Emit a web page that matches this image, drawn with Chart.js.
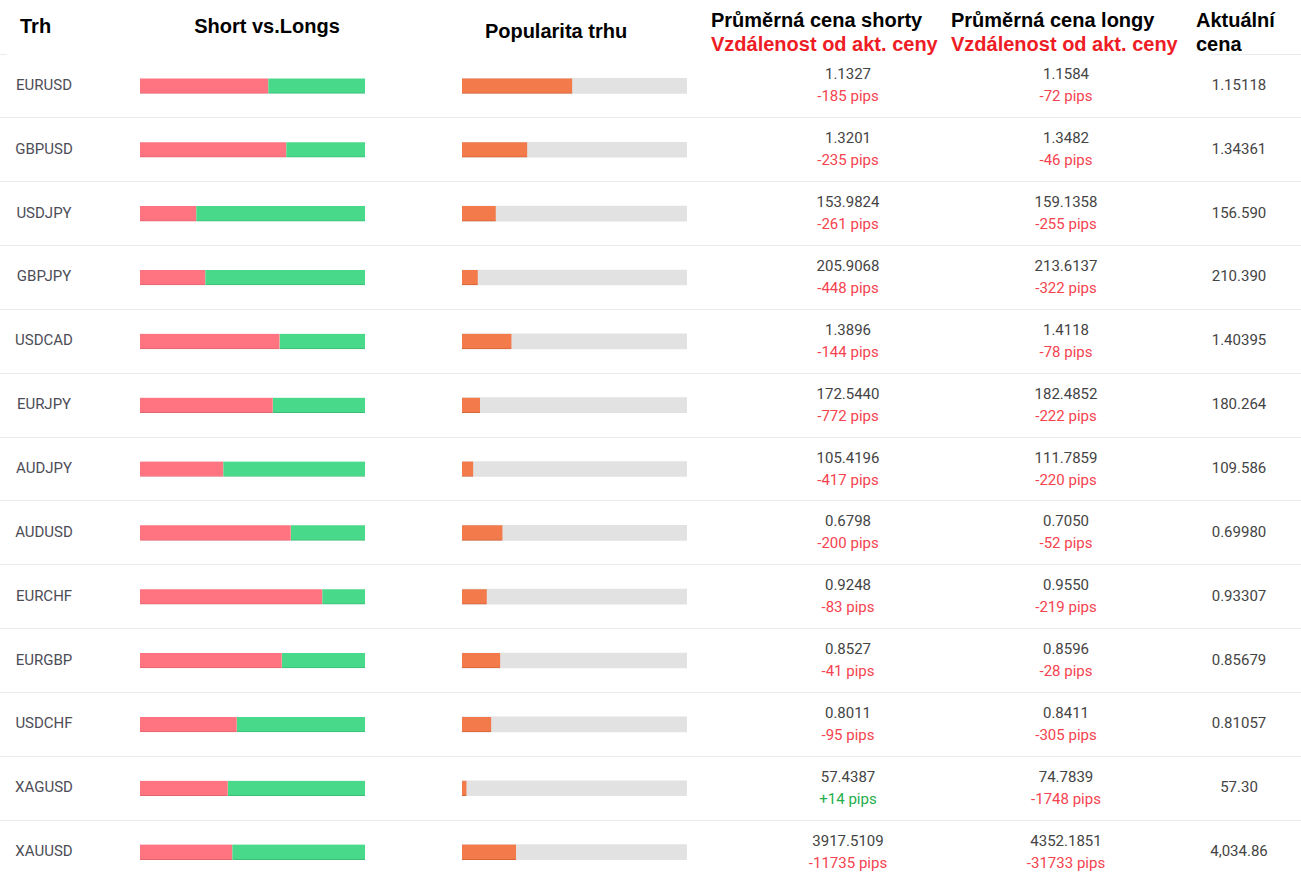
<!DOCTYPE html>
<html>
<head>
<meta charset="utf-8">
<script src="https://cdn.jsdelivr.net/npm/chart.js@4.4.1/dist/chart.umd.min.js"></script>
<style>
  body { margin: 0; background: #fff; }
  #page { position: relative; width: 1301px; height: 889px; overflow: hidden; font-family: Roboto, sans-serif; }
  .abs { position: absolute; white-space: nowrap; }
  .hd { font-family: "Liberation Sans", Arial, sans-serif; font-weight: bold; font-size: 20px; color: #000; line-height: 24px; }
  .hd.red { color: #ee1c25; }
  .txt { font-size: 15px; line-height: 18px; color: #444; }
  .pair { color: #4d4d57; font-size: 15px; }
  .neg { color: #f5434f; }
  .pos { color: #1fae4b; }
  .sep { position: absolute; left: 0; width: 1301px; height: 1px; background: #e9ecef; }
  .box { position: absolute; }
</style>
</head>
<body>
<div id="page">
  <div class="abs hd" style="left:20px;top:14px">Trh</div>
  <div class="abs hd" style="left:267px;top:14px;transform:translateX(-50%)">Short vs.Longs</div>
  <div class="abs hd" style="left:556px;top:19px;transform:translateX(-50%)">Popularita trhu</div>
  <div class="abs hd" style="left:711px;top:8px">Průměrná cena shorty</div>
  <div class="abs hd red" style="left:711px;top:32px">Vzdálenost od akt. ceny</div>
  <div class="abs hd" style="left:951px;top:8px">Průměrná cena longy</div>
  <div class="abs hd red" style="left:951px;top:32px">Vzdálenost od akt. ceny</div>
  <div class="abs hd" style="left:1196px;top:8px">Aktuální</div>
  <div class="abs hd" style="left:1196px;top:32px">cena</div>
  <div class="abs" style="left:0;top:54px;width:7px;height:1px;background:#e6ecf0"></div>
  <div class="abs" style="left:1210px;top:54px;width:91px;height:1px;background:#e6ecf0"></div>

  <div class="box" style="left:140px;top:54px;width:225px;height:830px"><canvas id="slChart"></canvas></div>
  <div class="box" style="left:462px;top:54px;width:225px;height:830px"><canvas id="popChart"></canvas></div>
  <div id="rows"></div>
</div>
<script>
const pairs = ['EURUSD','GBPUSD','USDJPY','GBPJPY','USDCAD','EURJPY','AUDJPY','AUDUSD','EURCHF','EURGBP','USDCHF','XAGUSD','XAUUSD'];
const shorts = [57, 65, 25, 29, 62, 59, 37, 67, 81, 63, 43, 39, 41];
const longs  = [43, 35, 75, 71, 38, 41, 63, 33, 19, 37, 57, 61, 59];
const popularity = [49, 29, 15, 7, 22, 8, 5, 18, 11, 17, 13, 2, 24];
const popularityMax = 100;
const shortPrices = ['1.1327','1.3201','153.9824','205.9068','1.3896','172.5440','105.4196','0.6798','0.9248','0.8527','0.8011','57.4387','3917.5109'];
const shortPips   = [-185, -235, -261, -448, -144, -772, -417, -200, -83, -41, -95, 14, -11735];
const longPrices  = ['1.1584','1.3482','159.1358','213.6137','1.4118','182.4852','111.7859','0.7050','0.9550','0.8596','0.8411','74.7839','4352.1851'];
const longPips    = [-72, -46, -255, -322, -78, -222, -220, -52, -219, -28, -305, -1748, -31733];
const currentPrices = ['1.15118','1.34361','156.590','210.390','1.40395','180.264','109.586','0.69980','0.93307','0.85679','0.81057','57.30','4,034.86'];

// text columns, one row per pair
const ROW_TOP = 54, ROW_H = 830 / pairs.length;
function pipsHtml(p) {
  const cls = p >= 0 ? 'pos' : 'neg';
  return `<span class="${cls}">${p >= 0 ? '+' : ''}${p} pips</span>`;
}
function cell(x, y, html, extra) {
  return `<div class="abs txt ${extra || ''}" style="left:${x}px;top:${y - 9}px;transform:translateX(-50%)">${html}</div>`;
}
document.getElementById('rows').innerHTML = pairs.map((p, i) => {
  const top = ROW_TOP + i * ROW_H;
  const mid = top + ROW_H / 2;
  let h = i > 0 ? `<div class="sep" style="top:${Math.floor(top)}px"></div>` : '';
  h += cell(44, mid - 1, p, 'pair');
  h += cell(848, mid - 11.5, shortPrices[i]);
  h += cell(848, mid + 10.5, pipsHtml(shortPips[i]));
  h += cell(1066, mid - 11.5, longPrices[i]);
  h += cell(1066, mid + 10.5, pipsHtml(longPips[i]));
  h += cell(1239, mid - 1, currentPrices[i]);
  return h;
}).join('');

const hidden = { display: false };
const baseOpts = {
  indexAxis: 'y',
  responsive: true,
  maintainAspectRatio: false,
  animation: false,
  layout: { padding: 0 },
  plugins: { legend: { display: false }, tooltip: { enabled: false } }
};
const edge = { top: 0, left: 0, right: 0, bottom: 1 };

// Short vs Longs
new Chart(document.getElementById('slChart').getContext('2d'), {
  type: 'bar',
  data: { labels: pairs, datasets: [
    { label: 'Short', data: shorts, backgroundColor: '#ff7480', borderColor: '#e2646f',
      borderWidth: edge, borderSkipped: false, barThickness: 15 },
    { label: 'Long', data: longs, backgroundColor: '#48d98b', borderColor: '#3bbd77',
      borderWidth: edge, borderSkipped: false, barThickness: 15 }
  ]},
  options: Object.assign({}, baseOpts, {
    scales: {
      x: Object.assign({ stacked: true, min: 0, max: 100 }, hidden),
      y: Object.assign({ stacked: true }, hidden)
    }
  })
});

// Popularita trhu
new Chart(document.getElementById('popChart').getContext('2d'), {
  type: 'bar',
  data: { labels: pairs, datasets: [
    { label: 'Popularita', data: popularity, backgroundColor: '#f27a4b', borderColor: '#d8643a',
      borderWidth: edge, borderSkipped: false, barThickness: 15, grouped: false, order: 0 },
    { label: 'Max', data: pairs.map(() => popularityMax), backgroundColor: '#e2e2e2',
      borderWidth: 0, barThickness: 15, grouped: false, order: 1 }
  ]},
  options: Object.assign({}, baseOpts, {
    scales: {
      x: Object.assign({ min: 0, max: popularityMax }, hidden),
      y: hidden
    }
  })
});
</script>
</body>
</html>
